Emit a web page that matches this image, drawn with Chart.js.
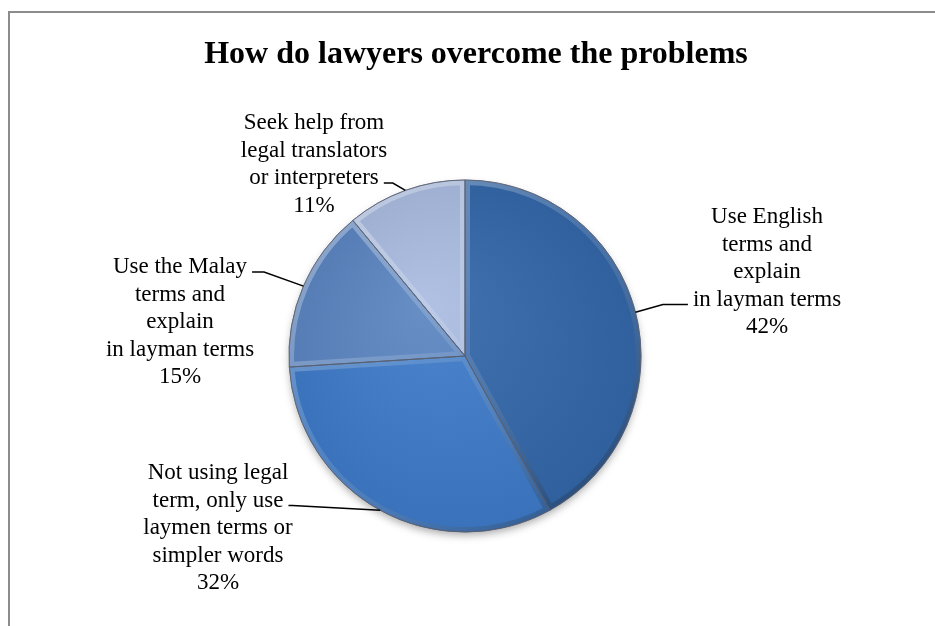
<!DOCTYPE html>
<html>
<head>
<meta charset="utf-8">
<script src="https://cdn.jsdelivr.net/npm/chart.js@4.4.1/dist/chart.umd.min.js"></script>
<style>
  html, body { margin: 0; padding: 0; background: #fff; }
  canvas { display: block; }
</style>
</head>
<body>
<canvas id="chart" width="935" height="626"></canvas>
<script>
    'use strict';

    // data
    const chartTitle = 'How do lawyers overcome the problems';
    const categories = [
        ['Use English', 'terms and', 'explain', 'in layman terms'],
        ['Not using legal', 'term, only use', 'laymen terms or', 'simpler words'],
        ['Use the Malay', 'terms and', 'explain', 'in layman terms'],
        ['Seek help from', 'legal translators', 'or interpreters']
    ];
    const shares = [42, 32, 15, 11];

    // styling / layout
    const sliceColors = ['#3366a8', '#3d7bc8', '#5a84c0', '#a9bbe0'];
    const LINE_H = 27.5;
    const labelLayout = [
        { x: 767, y: 217, line: 3, side: -1, elbow: 30 },
        { x: 218, y: 473, line: 1, side: 1, elbow: 9 },
        { x: 180, y: 267, line: 0, side: 1, elbow: 17 },
        { x: 314, y: 123, line: 2, side: 1, elbow: 14 }
    ];

    function shade(hex, amt) {
        const n = parseInt(hex.slice(1), 16);
        const t = amt < 0 ? 0 : 255, p = Math.abs(amt);
        const mix = c => Math.round((t - c) * p + c);
        return `rgb(${mix(n >> 16)},${mix((n >> 8) & 255)},${mix(n & 255)})`;
    }

    function sliceFill(context) {
        const chart = context.chart;
        const area = chart.chartArea;
        const base = sliceColors[context.dataIndex];
        if (!area) return base;
        const cx = (area.left + area.right) / 2, cy = (area.top + area.bottom) / 2;
        const g = chart.ctx.createRadialGradient(cx - 40, cy - 50, 10, cx, cy, 185);
        g.addColorStop(0, shade(base, 0.07));
        g.addColorStop(1, shade(base, -0.07));
        return g;
    }

    function arcPath(ctx, a) {
        ctx.beginPath();
        ctx.moveTo(a.x, a.y);
        ctx.arc(a.x, a.y, a.outerRadius, a.startAngle, a.endAngle);
        ctx.closePath();
    }

    const decorPlugin = {
        id: 'decor',
        beforeDraw(chart) {
            const ctx = chart.ctx;
            ctx.save();
            // chart frame (only top & left edges are in view)
            ctx.strokeStyle = '#8c8c8c';
            ctx.lineWidth = 2;
            ctx.beginPath();
            ctx.moveTo(9, chart.height);
            ctx.lineTo(9, 12);
            ctx.lineTo(chart.width, 12);
            ctx.stroke();
            // title
            ctx.fillStyle = '#000';
            ctx.font = 'bold 32px "Liberation Serif", "Times New Roman", serif';
            ctx.textAlign = 'center';
            ctx.textBaseline = 'alphabetic';
            ctx.fillText(chartTitle, 476, 63);
            ctx.restore();
        },
        beforeDatasetsDraw(chart) {
            const a = chart.getDatasetMeta(0).data[0];
            if (!a) return;
            const ctx = chart.ctx;
            ctx.save();
            ctx.shadowColor = 'rgba(0,0,0,0.35)';
            ctx.shadowBlur = 9;
            ctx.shadowOffsetY = 4;
            ctx.fillStyle = '#3d6fb0';
            ctx.beginPath();
            ctx.arc(a.x, a.y, a.outerRadius - 1, 0, Math.PI * 2);
            ctx.fill();
            ctx.restore();
        },
        afterDatasetsDraw(chart) {
            const ctx = chart.ctx;
            const arcs = chart.getDatasetMeta(0).data;

            // bevel: light on upper-left facing edges, dark on lower-right
            arcs.forEach(a => {
                const r = a.outerRadius;
                ctx.save();
                arcPath(ctx, a);
                ctx.clip();
                const g = ctx.createLinearGradient(a.x - r, a.y - r, a.x + r * 0.6, a.y + r);
                g.addColorStop(0, 'rgba(255,255,255,0.4)');
                g.addColorStop(0.5, 'rgba(255,255,255,0.12)');
                g.addColorStop(1, 'rgba(0,0,0,0.25)');
                ctx.strokeStyle = g;
                ctx.lineWidth = 10;
                arcPath(ctx, a);
                ctx.stroke();
                ctx.restore();
            });
            arcs.forEach(a => {
                ctx.save();
                ctx.strokeStyle = 'rgba(85,95,115,0.75)';
                ctx.lineWidth = 1;
                arcPath(ctx, a);
                ctx.stroke();
                ctx.restore();
            });

            // labels and leader lines
            ctx.save();
            ctx.font = '23px "Liberation Serif", "Times New Roman", serif';
            ctx.fillStyle = '#000';
            ctx.textAlign = 'center';
            ctx.textBaseline = 'middle';
            ctx.strokeStyle = '#000';
            ctx.lineWidth = 1.5;
            arcs.forEach((a, i) => {
                const lay = labelLayout[i];
                const lines = categories[i].concat(shares[i] + '%');
                lines.forEach((t, k) => ctx.fillText(t, lay.x, lay.y + k * LINE_H));

                const mid = (a.startAngle + a.endAngle) / 2;
                const ex = a.x + Math.cos(mid) * a.outerRadius;
                const ey = a.y + Math.sin(mid) * a.outerRadius;
                const w = ctx.measureText(lines[lay.line]).width;
                const tx = lay.x + lay.side * w / 2;
                const ly = lay.y + lay.line * LINE_H + 5;
                ctx.beginPath();
                ctx.moveTo(ex, ey);
                ctx.lineTo(tx + lay.side * lay.elbow, ly);
                ctx.lineTo(tx + lay.side * 5, ly);
                ctx.stroke();
            });
            ctx.restore();
        }
    };

    new Chart(document.getElementById('chart'), {
        type: 'pie',
        data: {
            labels: categories,
            datasets: [{
                data: shares,
                backgroundColor: sliceFill,
                borderColor: 'rgba(85,95,115,0.75)',
                borderWidth: 1,
                radius: 176
            }]
        },
        options: {
            responsive: false,
            animation: false,
            layout: { padding: { top: 180, bottom: 94, left: 100, right: 105 } },
            plugins: {
                legend: { display: false },
                tooltip: { enabled: false },
                title: { display: false }
            }
        },
        plugins: [decorPlugin]
    });
</script>
</body>
</html>
